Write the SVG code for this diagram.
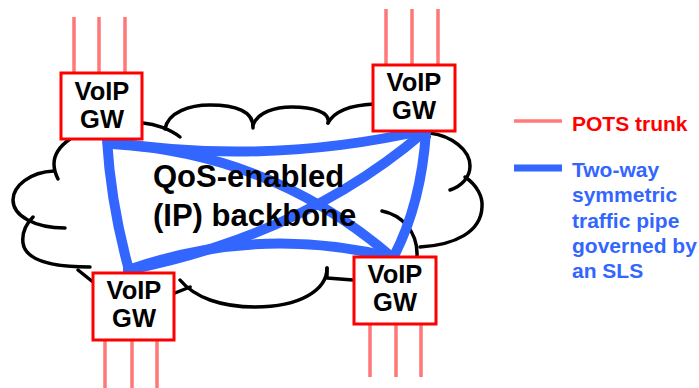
<svg xmlns="http://www.w3.org/2000/svg" width="699" height="388" viewBox="0 0 699 388">
<style>
.cloud{fill:none;stroke:#000;stroke-width:3.5;stroke-linecap:round;stroke-linejoin:round}
.pipe{fill:none;stroke:#3366ff;stroke-width:10;stroke-linecap:round}
.trunk{stroke:#ff3030;stroke-width:3}
.trunkc{stroke:#ffc0c0;stroke-width:1}
.box{fill:#fff;stroke:#ff0000;stroke-width:3}
.gwt{font-family:"Liberation Sans",Arial,sans-serif;font-weight:bold;font-size:25.5px;fill:#000;text-anchor:middle}
.ctr{font-family:"Liberation Sans",Arial,sans-serif;font-weight:bold;font-size:31px;fill:#000}
.leg{font-family:"Liberation Sans",Arial,sans-serif;font-weight:bold;font-size:21px}
</style>
<g id="cloud" class="cloud">
<path d="M143,123 C155,124 170,129 180,137"/>
<path d="M165,129 C168,112 190,105 210,105 C235,105 254,111 253,128"/>
<path d="M253,125 C258,112 275,107 292,107 C312,107 331,112 328,123"/>
<path d="M328,123 C335,110 352,105 374,104"/>
<path d="M427,132 L429,137"/>
<path d="M430,133 C452,136 470,150 470,166 C470,177 462,186 450,190"/>
<path d="M465,177 C477,185 483,197 482,207 C481,232 455,245 420,247"/>
<path d="M382,211 C402,215 418,232 417,256"/>
<path d="M353,280 L327,278 M327,268 L327,278"/>
<path d="M327,268 C327,290 300,307 255,307 C222,307 195,298 180,280"/>
<path d="M175,293 L190,287"/>
<path d="M93,282 L78,270"/>
<path d="M33,217 C25,225 22,235 23,243 C25,258 45,267 90,267"/>
<path d="M54,171 C30,172 13,186 13,200 C13,216 35,228 65,228"/>
<path d="M70,139 C60,146 54,155 54,164 C54,170 56,175 58,179"/>
</g>
<g id="pipes" class="pipe">
<path d="M107,140 Q111,205 129,270"/>
<path d="M110,142 Q268,166 425,130"/>
<path d="M112,144 Q272,153 393,258"/>
<path d="M424,132 Q304,235 128,270"/>
<path d="M426,132 Q421,205 393,258"/>
<path d="M128,270 Q260,224 394,258"/>
</g>
<g id="backbone-label" class="ctr">
<text x="153" y="187">QoS-enabled</text>
<text x="153" y="226">(IP) backbone</text>
</g>
<g id="gw-tl">
<g class="trunk"><line x1="74" y1="17" x2="74" y2="73"/><line x1="99" y1="17" x2="99" y2="73"/><line x1="125" y1="17" x2="125" y2="73"/></g>
<g class="trunkc"><line x1="74" y1="17" x2="74" y2="73"/><line x1="99" y1="17" x2="99" y2="73"/><line x1="125" y1="17" x2="125" y2="73"/></g>
<rect class="box" x="61" y="73" width="81" height="66"/>
<text class="gwt" x="102" y="100">VoIP</text>
<text class="gwt" x="102" y="128">GW</text>
</g>
<g id="gw-tr">
<g class="trunk"><line x1="386" y1="9" x2="386" y2="65"/><line x1="412" y1="9" x2="412" y2="65"/><line x1="438" y1="9" x2="438" y2="65"/></g>
<g class="trunkc"><line x1="386" y1="9" x2="386" y2="65"/><line x1="412" y1="9" x2="412" y2="65"/><line x1="438" y1="9" x2="438" y2="65"/></g>
<rect class="box" x="373" y="65" width="82" height="66"/>
<text class="gwt" x="414" y="91">VoIP</text>
<text class="gwt" x="414" y="119">GW</text>
</g>
<g id="gw-bl">
<g class="trunk"><line x1="105" y1="340" x2="105" y2="388"/><line x1="132" y1="340" x2="132" y2="388"/><line x1="157" y1="340" x2="157" y2="388"/></g>
<g class="trunkc"><line x1="105" y1="340" x2="105" y2="388"/><line x1="132" y1="340" x2="132" y2="388"/><line x1="157" y1="340" x2="157" y2="388"/></g>
<rect class="box" x="93" y="273" width="81" height="67"/>
<text class="gwt" x="134" y="299">VoIP</text>
<text class="gwt" x="134" y="327">GW</text>
</g>
<g id="gw-br">
<g class="trunk"><line x1="370" y1="324" x2="370" y2="377"/><line x1="396" y1="324" x2="396" y2="377"/><line x1="421" y1="324" x2="421" y2="377"/></g>
<g class="trunkc"><line x1="370" y1="324" x2="370" y2="377"/><line x1="396" y1="324" x2="396" y2="377"/><line x1="421" y1="324" x2="421" y2="377"/></g>
<rect class="box" x="354" y="257" width="82" height="67"/>
<text class="gwt" x="395" y="283">VoIP</text>
<text class="gwt" x="395" y="311">GW</text>
</g>
<g id="legend">
<line x1="514" y1="121" x2="562" y2="121" stroke="#ff7a7a" stroke-width="3.5"/>
<text class="leg" x="572" y="131" fill="#ff0000">POTS trunk</text>
<line x1="514" y1="168" x2="562" y2="168" stroke="#3366ff" stroke-width="7"/>
<text class="leg" fill="#3366ff"><tspan x="572" y="177">Two-way</tspan><tspan x="572" y="202">symmetric</tspan><tspan x="572" y="228">traffic pipe</tspan><tspan x="572" y="253">governed by</tspan><tspan x="572" y="278">an SLS</tspan></text>
</g>
</svg>
